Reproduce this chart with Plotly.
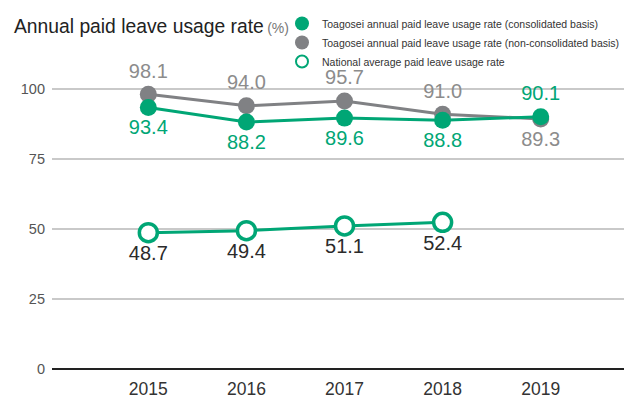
import plotly.graph_objects as go

years = [2015, 2016, 2017, 2018, 2019]
consolidated = [93.4, 88.2, 89.6, 88.8, 90.1]
non_consolidated = [98.1, 94.0, 95.7, 91.0, 89.3]
national_years = [2015, 2016, 2017, 2018]
national = [48.7, 49.4, 51.1, 52.4]
y_ticks = [0, 25, 50, 75, 100]

GREEN = "#00a675"
GRAY = "#808184"
FONT = "Liberation Sans, Arial, sans-serif"

# plot area in pixels
L, R, T, B = 52, 0, 61, 31
W, H = 624, 400

fig = go.Figure()

fig.add_trace(go.Scatter(
    x=national_years, y=national, mode="lines+markers+text",
    line=dict(color=GREEN, width=3),
    marker=dict(size=18, color="white", line=dict(color=GREEN, width=3.5)),
    text=[f"{v:.1f}" for v in national], textposition="bottom center",
    textfont=dict(size=20, color="#2b2b2b", family=FONT),
    showlegend=False, cliponaxis=False,
))

fig.add_trace(go.Scatter(
    x=years, y=non_consolidated, mode="lines+markers+text",
    line=dict(color=GRAY, width=3),
    marker=dict(size=17, color=GRAY),
    text=[f"{v:.1f}" for v in non_consolidated],
    textposition=["top center"] * 4 + ["bottom center"],
    textfont=dict(size=20, color="#8c8c8c", family=FONT),
    showlegend=False, cliponaxis=False,
))

fig.add_trace(go.Scatter(
    x=years, y=consolidated, mode="lines+markers+text",
    line=dict(color=GREEN, width=3),
    marker=dict(size=17, color=GREEN),
    text=[f"{v:.1f}" for v in consolidated],
    textposition=["bottom center"] * 4 + ["top center"],
    textfont=dict(size=20, color=GREEN, family=FONT),
    showlegend=False, cliponaxis=False,
))

# legend entries (markers only)
legend_items = [
    ("Toagosei annual paid leave usage rate (consolidated basis)", dict(size=14, color=GREEN)),
    ("Toagosei annual paid leave usage rate (non-consolidated basis)", dict(size=14, color=GRAY)),
    ("National average paid leave usage rate", dict(size=12, color="white", line=dict(color=GREEN, width=2))),
]
for name, mk in legend_items:
    fig.add_trace(go.Scatter(x=[None], y=[None], mode="markers", name=name, marker=mk))

fig.update_layout(
    width=W, height=H,
    margin=dict(l=L, r=R, t=T, b=B, autoexpand=False),
    paper_bgcolor="white", plot_bgcolor="white",
    showlegend=True,
    legend=dict(
        x=282 / W, y=1 - 9 / H, xref="container", yref="container",
        xanchor="left", yanchor="top",
        font=dict(size=10.5, color="#333333", family=FONT),
        itemsizing="trace", tracegroupgap=0, itemwidth=30,
        bgcolor="rgba(0,0,0,0)",
    ),
    xaxis=dict(
        range=[2014.018, 2019.849], tickvals=years, ticktext=[str(y) for y in years],
        showgrid=False, zeroline=False, showline=False,
        tickfont=dict(size=17.5, color="#333333", family=FONT),
        ticklabelstandoff=7,
    ),
    yaxis=dict(
        range=[0, 110], tickvals=y_ticks,
        showgrid=True, gridcolor="#c9c9c9", gridwidth=1.5,
        zeroline=True, zerolinecolor="#222222", zerolinewidth=1.5,
        tickfont=dict(size=14.5, color="#555555", family=FONT),
        ticklabelstandoff=6,
    ),
    annotations=[
        dict(
            x=(12 - L) / (W - L - R), y=(H - B - 27) / (H - T - B),
            xref="paper", yref="paper", showarrow=False,
            text="<span style='font-size:19.3px;color:#222'>Annual paid leave usage rate</span>"
                 " <span style='font-size:14px;color:#777'>(%)</span>",
            font=dict(family=FONT),
            xanchor="left", yanchor="middle",
        )
    ],
)

fig.write_html("out.html")
